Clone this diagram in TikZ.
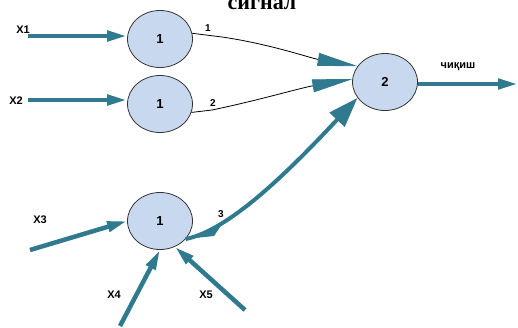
\documentclass[tikz,border=0pt]{standalone}
\usepackage{fontspec}
\setmainfont{Liberation Serif}
\newfontfamily\lsans{Liberation Sans}
\usetikzlibrary{arrows.meta,shapes.geometric}
\definecolor{teal1}{RGB}{47,122,142}
\definecolor{cfill}{RGB}{200,216,238}
\tikzset{
  neuron/.style={ellipse,draw=black!80,line width=0.8pt,fill=cfill,minimum width=65pt,minimum height=57pt,inner sep=0pt,font=\lsans\bfseries\fontsize{13}{13}\selectfont},
  inarrow/.style={draw=teal1,line width=4.5pt,-{Triangle[length=20pt,width=10pt]}},
  thinarrow/.style={draw=black,line width=0.8pt,-{Triangle[length=40pt,width=13pt,color=teal1]}},
  lbl/.style={font=\lsans\bfseries\fontsize{11}{11}\selectfont,inner sep=0pt},
  wlbl/.style={font=\lsans\bfseries\fontsize{10}{10}\selectfont,inner sep=0pt}
}
\begin{document}
\begin{tikzpicture}[x=1pt,y=-1pt]
\useasboundingbox (0,0) rectangle (518,327);
\node[font=\bfseries\fontsize{22}{22}\selectfont,inner sep=0pt] (title) at (262,4) {сигнал};
\node[neuron] (a) at (160,39) {1};
\node[neuron] (b) at (160,104) {1};
\node[neuron] (c) at (160,221) {1};
\node[neuron] (d) at (385,82) {2};
% inputs
\node[lbl] (x1) at (23,30) {X1};
\node[lbl] (x2) at (16,101) {X2};
\node[lbl] (x3) at (40,220) {X3};
\node[lbl] (x4) at (114,295) {X4};
\node[lbl] (x5) at (206,295) {X5};
\coordinate (x1s) at (28,36);
\coordinate (x2s) at (28,100);
\coordinate (x3s) at (30,250);
\coordinate (x4s) at (120,326);
\coordinate (x5s) at (245,310);
\coordinate (outs) at (518,84);
\draw[inarrow] (x1s) -- (a.west |- x1s);
\draw[inarrow] (x2s) -- (b.west |- x2s);
\draw[inarrow] (x3s) -- (c.west);
\draw[inarrow] (x4s) -- (c.south);
\draw[inarrow] (x5s) -- (c.-60);
% weight labels
\node[wlbl] (w1) at (208,28) {1};
\node[wlbl] (w2) at (213,103) {2};
\node[wlbl] (w3) at (221,214) {3};
% thin connections
\draw[thinarrow] (a.10) -- (222,37) .. controls (270,44) and (310,58) .. (d.150);
\draw[thinarrow] (b.-15) -- (212,110) .. controls (260,100) and (300,88) .. (d.175);
% thick from c to d
\fill[teal1] (c.-35) -- (222,224) -- (214,236) -- cycle;
\draw[draw=teal1,line width=4pt,-{Triangle[length=30pt,width=20pt]}] (c.-35) .. controls (230,230) and (290,170) .. (d.-150);
% output
\node[lbl] (outl) at (458,67) {чиқиш};
\draw[inarrow] (d.east |- outs) -- (outs);
\end{tikzpicture}
\end{document}
